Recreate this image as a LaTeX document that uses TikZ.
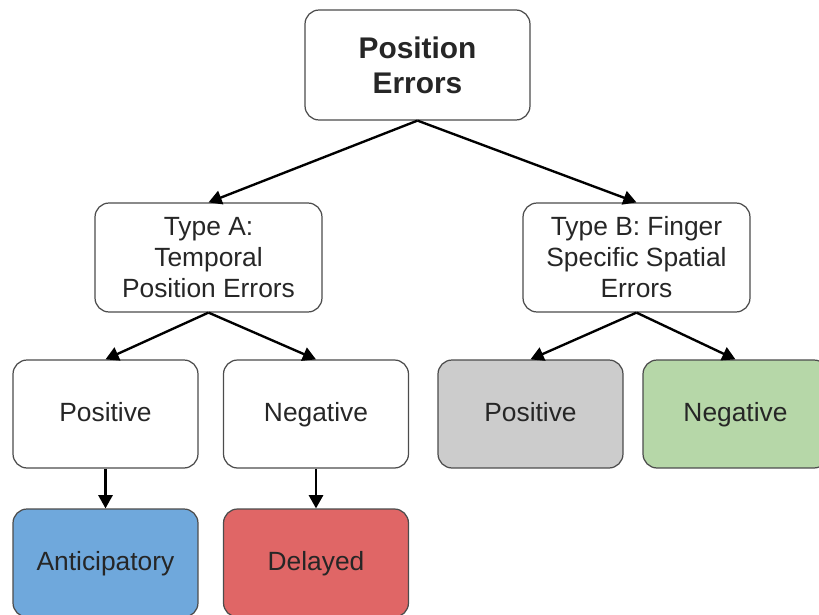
\documentclass[tikz,border=0pt]{standalone}
\usepackage{fontspec}
\setmainfont{Liberation Sans}
\usetikzlibrary{arrows.meta}

\definecolor{antiBlue}{HTML}{6FA8DC}
\definecolor{delayRed}{HTML}{E06666}
\definecolor{posGray}{HTML}{CCCCCC}
\definecolor{negGreen}{HTML}{B6D7A8}

\tikzset{
  box/.style={draw=black!70, line width=0.7pt, rounded corners=8pt, align=center,
    inner sep=0pt, text=black!85, font=\fontsize{15}{17.6}\selectfont,
    minimum width=4.54cm, minimum height=2.18cm},
  leaf/.style={box, minimum width=3.7cm, minimum height=2.16cm,
    text height=11pt, text depth=3pt},
  arr/.style={-{Triangle[length=7.5pt,width=8pt]}, line width=1.35pt}
}

\begin{document}
\begin{tikzpicture}[x=0.02cm, y=-0.02cm]
\useasboundingbox (0,0) rectangle (819,615);

%% boxes
\node[box, minimum width=4.5cm, minimum height=2.2cm,
  font=\bfseries\fontsize{17}{19.8}\selectfont] (pos) at (417.5,65) {Position\\Errors};
\node[box] (typeA) at (208.5,257.5) {Type A:\\Temporal\\Position Errors};
\node[box] (typeB) at (636.5,257.5) {Type B: Finger\\Specific Spatial\\Errors};

\node[leaf] (posA) at (105.5,414) {Positive};
\node[leaf] (negA) at (316,414) {Negative};
\node[leaf, fill=posGray] (posB) at (530.5,414) {Positive};
\node[leaf, fill=negGreen] (negB) at (735.5,414) {Negative};

\node[leaf, fill=antiBlue] (antic) at (105.5,563) {Anticipatory};
\node[leaf, fill=delayRed] (delay) at (316,563) {Delayed};

%% arrows
\draw[arr] (pos.south) -- (typeA.north);
\draw[arr] (pos.south) -- (typeB.north);
\draw[arr] (typeA.south) -- (posA.north);
\draw[arr] (typeA.south) -- (negA.north);
\draw[arr] (typeB.south) -- (posB.north);
\draw[arr] (typeB.south) -- (negB.north);
\draw[arr] (posA.south) -- (antic.north);
\draw[arr] (negA.south) -- (delay.north);
\end{tikzpicture}
\end{document}
